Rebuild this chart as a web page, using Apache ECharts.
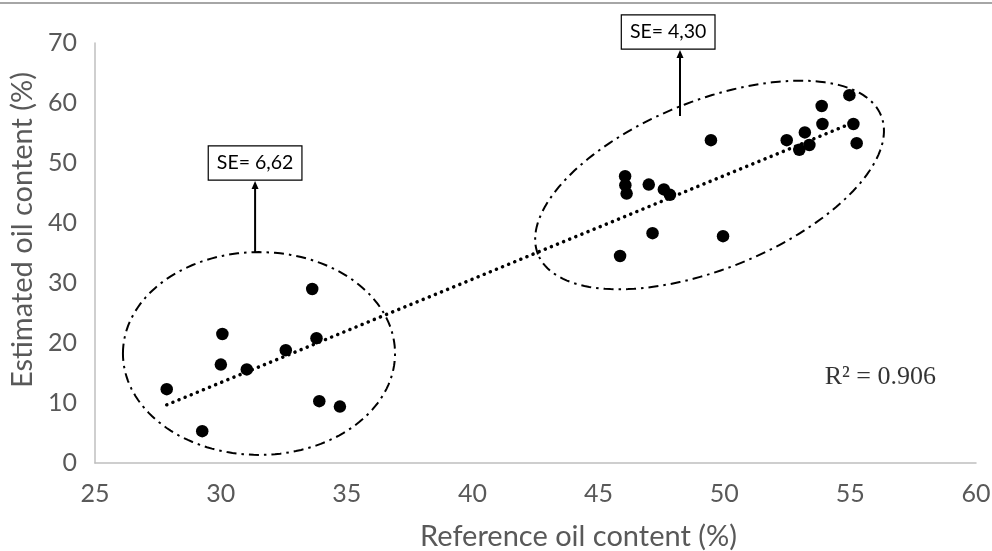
<!DOCTYPE html>
<html>
<head>
<meta charset="utf-8">
<script src="https://cdn.jsdelivr.net/npm/echarts@6/dist/echarts.min.js"></script>
<style>
html,body{margin:0;padding:0;background:#fff;}
#chart{width:992px;height:551px;}
</style>
</head>
<body>
<div id="chart"></div>
<script>
// ---- data ----
const xAxisTitle = 'Reference oil content (%)';
const yAxisTitle = 'Estimated oil content (%)';
const xMin = 25, xMax = 60, xStep = 5;
const yMin = 0, yMax = 70, yStep = 10;

const referenceOil = [27.85, 29.26, 30.06, 30.0, 31.03, 32.58, 33.63, 33.8, 33.91, 34.73,
  46.06, 46.07, 46.12, 47.0, 47.6, 47.84, 49.47, 47.15, 49.95, 45.86,
  52.48, 52.98, 53.2, 53.38, 53.87, 53.9, 54.97, 55.13, 55.26];
const estimatedOil = [12.3, 5.3, 21.5, 16.4, 15.6, 18.8, 29.0, 20.8, 10.3, 9.4,
  47.8, 46.3, 44.9, 46.4, 45.6, 44.7, 53.8, 38.3, 37.8, 34.5,
  53.8, 52.2, 55.1, 53.0, 59.5, 56.5, 61.3, 56.5, 53.3];

const trendX = [27.85, 55.1];
const trendY = [9.7, 56.7];

// group ellipses: major-axis end points (data units) and minor semi-axis (y units)
const ellipseEndA = [[26.11, 18.25], [42.6, 34.77]];
const ellipseEndB = [[36.92, 18.25], [56.23, 57.9]];
const ellipseMinor = [16.9, 14.0];

// SE annotations
const seLabels = ['SE= 6,62', 'SE= 4,30'];
const seArrowBase = [[31.36, 35.17], [48.24, 57.83]];
const seBoxCenter = [[31.36, 50.0], [47.77, 71.83]];

const r2Text = 'R\u00B2 = 0.906';
const r2Pos = [[56.2, 14.3]];

// ---- chart ----
const chart = echarts.init(document.getElementById('chart'));
const labelFont = 'Lato';

const scatterData = referenceOil.map((x, i) => [x, estimatedOil[i]]);
const trendData = trendX.map((x, i) => [x, trendY[i]]);
const ellipseData = ellipseEndA.map((a, i) => [a[0], a[1], ellipseEndB[i][0], ellipseEndB[i][1], ellipseMinor[i]]);
const annData = seLabels.map((t, i) => [seArrowBase[i][0], seArrowBase[i][1], seBoxCenter[i][0], seBoxCenter[i][1]]);

const option = {
  animation: false,
  backgroundColor: '#ffffff',
  grid: { left: 95, right: 16, top: 43, bottom: 88, containLabel: false, outerBoundsMode: 'none' },
  xAxis: {
    type: 'value', min: xMin, max: xMax, interval: xStep,
    name: xAxisTitle, nameLocation: 'middle', nameGap: 59,
    nameTextStyle: { fontFamily: labelFont, fontSize: 29, color: '#595959', padding: [0, 0, 0, 86] },
    axisLine: { show: true, lineStyle: { color: '#bfbfbf', width: 1.5 } },
    axisTick: { show: false },
    splitLine: { show: false },
    axisLabel: { fontFamily: labelFont, fontSize: 25, color: '#595959', margin: 18 }
  },
  yAxis: {
    type: 'value', min: yMin, max: yMax, interval: yStep,
    name: yAxisTitle, nameLocation: 'middle', nameGap: 56,
    nameTextStyle: { fontFamily: labelFont, fontSize: 29, color: '#595959', padding: [0, 0, 0, 46] },
    axisLine: { show: true, lineStyle: { color: '#bfbfbf', width: 1.5 } },
    axisTick: { show: false },
    splitLine: { show: false },
    axisLabel: { fontFamily: labelFont, fontSize: 25, color: '#595959', margin: 18 }
  },
  graphic: [{
    type: 'line', shape: { x1: 0, y1: 3, x2: 992, y2: 3 },
    style: { stroke: '#a6a6a6', lineWidth: 2 }, silent: true
  }],
  series: [
    {
      type: 'custom',
      name: 'ellipses',
      coordinateSystem: 'cartesian2d',
      data: ellipseData,
      encode: { x: [0, 2], y: [1, 3] },
      silent: true,
      z: 1,
      renderItem: function (params, api) {
        const p1 = api.coord([api.value(0), api.value(1)]);
        const p2 = api.coord([api.value(2), api.value(3)]);
        const b = Math.abs(api.size([0, api.value(4)])[1]);
        const cx = (p1[0] + p2[0]) / 2, cy = (p1[1] + p2[1]) / 2;
        const dx = p2[0] - p1[0], dy = p2[1] - p1[1];
        const a = Math.sqrt(dx * dx + dy * dy) / 2;
        const ux = dx / (2 * a), uy = dy / (2 * a);
        const vx = -uy, vy = ux;
        const pts = [];
        const n = 160;
        for (let k = 0; k < n; k++) {
          const t = Math.PI + (k / n) * Math.PI * 2;
          const c = Math.cos(t), s = Math.sin(t);
          pts.push([cx + a * c * ux + b * s * vx, cy + a * c * uy + b * s * vy]);
        }
        return {
          type: 'polygon',
          shape: { points: pts },
          style: { fill: 'none', stroke: '#000', lineWidth: 2, lineDash: [10, 5, 2.5, 5] }
        };
      }
    },
    {
      type: 'line',
      name: 'trend',
      data: trendData,
      symbol: 'none',
      silent: true,
      z: 2,
      lineStyle: { color: '#000', width: 3.5, type: [0.1, 6.5], cap: 'round' }
    },
    {
      type: 'scatter',
      name: 'samples',
      data: scatterData,
      symbol: 'circle',
      symbolSize: 12.5,
      itemStyle: { color: '#000', opacity: 1 },
      z: 3
    },
    {
      type: 'custom',
      name: 'annotations',
      coordinateSystem: 'cartesian2d',
      data: annData,
      encode: { x: [0, 2], y: [1, 3] },
      clip: false,
      silent: true,
      z: 4,
      renderItem: function (params, api) {
        const base = api.coord([api.value(0), api.value(1)]);
        const box = api.coord([api.value(2), api.value(3)]);
        const label = seLabels[params.dataIndex];
        const boxH = 36;
        const boxBottom = box[1] + boxH / 2;
        const ax = base[0];
        return {
          type: 'group',
          children: [
            { type: 'line', shape: { x1: ax, y1: base[1], x2: ax, y2: boxBottom + 6 },
              style: { stroke: '#000', lineWidth: 2 } },
            { type: 'polygon', shape: { points: [[ax, boxBottom], [ax - 3.5, boxBottom + 8], [ax + 3.5, boxBottom + 8]] },
              style: { fill: '#000' } },
            { type: 'text', x: box[0], y: box[1],
              style: { text: label, fontFamily: labelFont, fontSize: 19.5, fill: '#000',
                align: 'center', verticalAlign: 'middle',
                backgroundColor: '#fff', borderColor: '#000', borderWidth: 1.2,
                padding: [7, 8, 6, 8] } }
          ]
        };
      }
    },
    {
      type: 'scatter',
      name: 'r2',
      data: r2Pos,
      symbolSize: 0,
      silent: true,
      z: 5,
      label: {
        show: true, position: 'inside', formatter: r2Text,
        fontFamily: 'Liberation Serif', fontSize: 26, color: '#000'
      }
    }
  ]
};
chart.setOption(option);
</script>
</body>
</html>
